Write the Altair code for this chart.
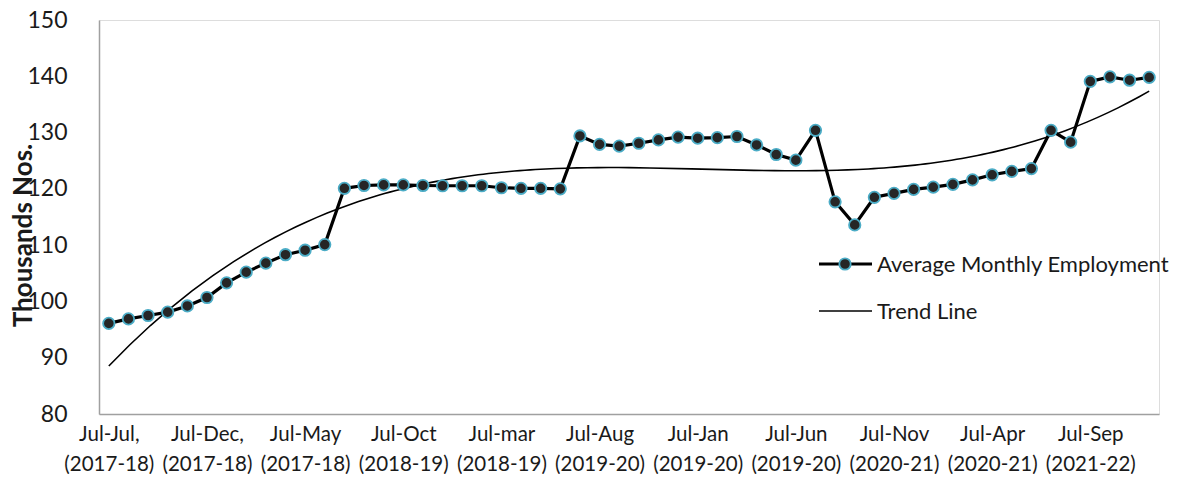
import json
import altair as alt
import pandas as pd

# ---- data ----
employment = [96.1, 96.9, 97.5, 98.1, 99.2, 100.7, 103.3, 105.2, 106.8, 108.3, 109.1, 110.1,
              120.1, 120.6, 120.7, 120.7, 120.6, 120.55, 120.55, 120.55, 120.2, 120.1, 120.1, 120.0,
              129.4, 127.9, 127.6, 128.1, 128.7, 129.2, 129.0, 129.1, 129.3, 127.8, 126.1, 125.1,
              130.4, 117.7, 113.6, 118.5, 119.2, 119.9, 120.3, 120.8, 121.6, 122.5, 123.1, 123.6,
              130.4, 128.3, 139.1, 139.9, 139.3, 139.8]
month_index = list(range(len(employment)))
tick_positions = [0, 5, 10, 15, 20, 25, 30, 35, 40, 45, 50]
tick_line1 = ["Jul-Jul,", "Jul-Dec,", "Jul-May", "Jul-Oct", "Jul-mar", "Jul-Aug",
              "Jul-Jan", "Jul-Jun", "Jul-Nov", "Jul-Apr", "Jul-Sep"]
tick_line2 = ["(2017-18)", "(2017-18)", "(2017-18)", "(2018-19)", "(2018-19)", "(2019-20)",
              "(2019-20)", "(2019-20)", "(2020-21)", "(2020-21)", "(2021-22)"]
series_names = ["Average Monthly Employment", "Trend Line"]

df = pd.DataFrame({"idx": month_index, "val": employment})

FONT = "Lato"
W, H = 1060, 394

label_arr = json.dumps([[a, b] for a, b in zip(tick_line1, tick_line2)])

x_enc = alt.X("idx:Q",
              scale=alt.Scale(domain=[-0.5, len(employment) - 0.5], nice=False, zero=False),
              axis=alt.Axis(values=tick_positions, labelExpr=f"{label_arr}[round(datum.value/5)]",
                            title=None, grid=False, ticks=False, domainColor="#a0a0a0",
                            domainWidth=1.5, labelFont=FONT, labelFontSize=20.5,
                            labelColor="#1a1a1a", labelPadding=10, labelLineHeight=30,
                            labelBaseline="top", labelFlush=False, labelOverlap=False))
y_enc = alt.Y("val:Q",
              scale=alt.Scale(domain=[80, 150], nice=False, zero=False),
              axis=alt.Axis(values=list(range(80, 151, 10)), title="Thousands Nos.",
                            grid=False, ticks=False, domainColor="#a0a0a0", domainWidth=1.5,
                            labelFont=FONT, labelFontSize=23, labelColor="#1a1a1a",
                            labelPadding=32, titleFont=FONT, titleFontSize=26,
                            titleFontWeight="bold", titleColor="#1a1a1a", titleAngle=-90,
                            titleX=-76, titleY=215, titleAlign="center",
                            titleBaseline="middle"))

base = alt.Chart(df)

trend = base.transform_regression("idx", "val", method="poly", order=3,
                                  extent=[0, len(employment) - 1]).mark_line(
    color="black", strokeWidth=1.6).encode(x=x_enc, y=y_enc)

line = base.mark_line(color="black", strokeWidth=3.2).encode(x=x_enc, y=y_enc)
pts = base.mark_point(filled=True, shape="circle", size=130, fill="#262626",
                      stroke="#4bacc6", strokeWidth=1.8, opacity=1).encode(x=x_enc, y=y_enc)

# ---- manual legend ----
leg1 = pd.DataFrame({"s": [series_names[0]]})
leg2 = pd.DataFrame({"s": [series_names[1]]})
l1_rule = alt.Chart(leg1).mark_rule(color="black", strokeWidth=3.2).encode(
    x=alt.value(720), x2=alt.value(773), y=alt.value(244))
l1_pt = alt.Chart(leg1).mark_point(filled=True, shape="circle", size=130, fill="#262626",
                                   stroke="#4bacc6", strokeWidth=1.8, opacity=1).encode(
    x=alt.value(746), y=alt.value(244))
l1_txt = alt.Chart(leg1).mark_text(align="left", baseline="middle", font=FONT, fontSize=22,
                                   color="#1a1a1a").encode(
    x=alt.value(778), y=alt.value(245), text="s:N")
l2_rule = alt.Chart(leg2).mark_rule(color="black", strokeWidth=1.6).encode(
    x=alt.value(720), x2=alt.value(773), y=alt.value(291))
l2_txt = alt.Chart(leg2).mark_text(align="left", baseline="middle", font=FONT, fontSize=22,
                                   color="#1a1a1a").encode(
    x=alt.value(778), y=alt.value(292), text="s:N")

chart = alt.layer(trend, line, pts, l1_rule, l1_pt, l1_txt, l2_rule, l2_txt).properties(
    width=W, height=H,
    autosize=alt.AutoSizeParams(type="none"),
    padding={"left": 91, "top": 12, "right": 10, "bottom": 60},
).configure_view(stroke=None).configure(background="white")

chart.save("out.html", embed_options={"renderer": "svg", "actions": False})
